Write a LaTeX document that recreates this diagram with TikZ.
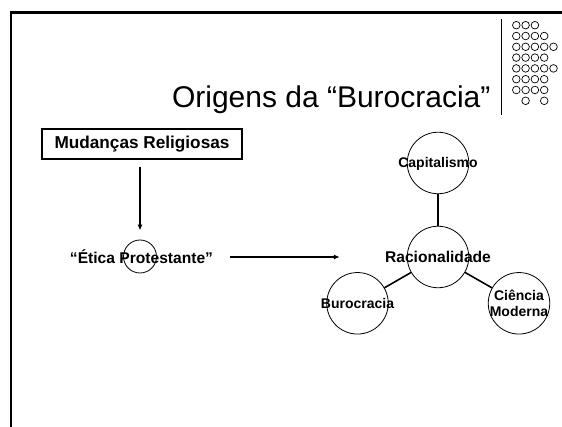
\documentclass[tikz,border=0pt]{standalone}
\usepackage{fontspec}
\setmainfont{Liberation Sans}
\usetikzlibrary{positioning,arrows.meta}

\begin{document}
\begin{tikzpicture}[x=1pt,y=-1pt,
    moldura/.style={line width=2.6pt, line join=miter},
    caixa/.style={draw, line width=2pt, minimum width=200pt, minimum height=30pt,
        font=\bfseries\fontsize{17.2}{20}\selectfont},
    circulo/.style={draw, circle, line width=0.8pt, minimum size=61.5pt, inner sep=0pt},
    rotulo/.style={font=\bfseries\fontsize{14}{16}\selectfont, align=center, inner sep=0pt},
    liga/.style={line width=1.6pt},
    seta/.style={line width=1.2pt, -{Latex[length=6pt,width=5pt]}}]
    \useasboundingbox (0,0) rectangle (562,427);

    % Slide frame and header
    \draw[moldura] (562,12.5) -- (11,12.5) -- (11,427);
    \node[anchor=base east, font=\fontsize{30}{36}\selectfont] (titulo) at (494,108) {Origens da “Burocracia”};
    \draw[line width=0.8pt] (501,19) -- (501,115);

    % Circle ornament
    \foreach \linha/\cols in {1/{1,2,3}, 2/{1,...,4}, 3/{1,...,5}, 4/{1,...,4},
                              5/{1,...,5}, 6/{1,...,4}, 7/{1,...,4}, 8/{2,4}} {
        \foreach \c in \cols {
            \draw[line width=0.7pt] (507+9.3*\c, 14.4+10.8*\linha) circle (3.8pt);
        }
    }

    % Left branch
    \node[caixa] (mudancas) at (142,144) {Mudanças Religiosas};
    \node[circulo, minimum size=33pt] (eticacirc) at (140,256.5) {};
    \node[rotulo, font=\bfseries\fontsize{15.6}{18}\selectfont] (etica) at (141.5,257) {“Ética Protestante”};
    \draw[seta, shorten <=7pt, shorten >=9pt] (mudancas.south -| eticacirc) -- (eticacirc.north);

    % Rationality cluster
    \node[circulo] (rac) at (438,257) {};
    \node[circulo] (cap) at (438,163) {};
    \node[circulo] (buro) at (357.5,303.3) {};
    \node[circulo] (ciencia) at (519,303.3) {};
    \node[rotulo, font=\bfseries\fontsize{15.6}{18}\selectfont] (racrot) at (rac) {Racionalidade};
    \node[rotulo] (caprot) at ([yshift=-1pt]cap) {Capitalismo};
    \node[rotulo] (burorot) at (buro) {Burocracia};
    \node[rotulo] (cienciarot) at (ciencia) {Ciência\\Moderna};

    \draw[seta, shorten <=17pt, shorten >=67pt] (etica.east) -- (etica.east -| rac.west);
    \foreach \n in {cap,buro,ciencia} {
        \draw[liga] (rac) -- (\n);
    }
\end{tikzpicture}
\end{document}
